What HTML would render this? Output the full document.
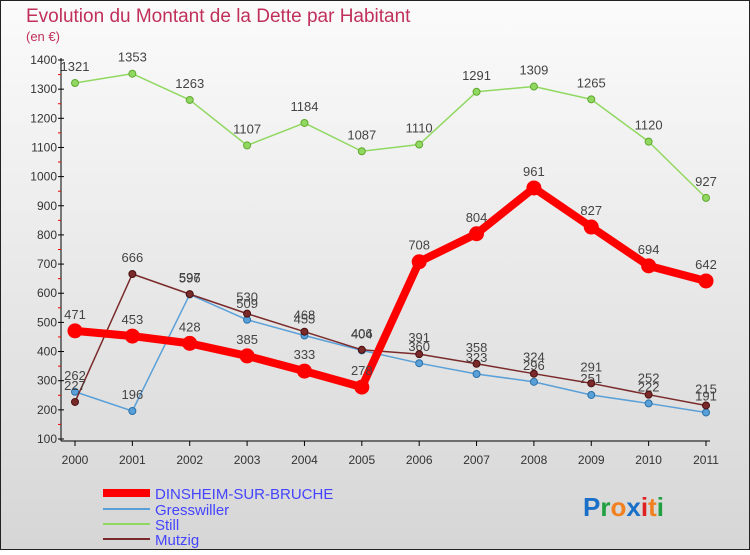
<!DOCTYPE html>
<html><head><meta charset="utf-8"><style>
body{margin:0;width:750px;height:550px;overflow:hidden;font-family:"Liberation Sans",sans-serif}
</style></head><body>
<svg width="750" height="550" xmlns="http://www.w3.org/2000/svg" id="chart">
<defs><linearGradient id="bg" x1="0" y1="0" x2="0" y2="1"><stop offset="0" stop-color="#fbfbfb"/><stop offset="1" stop-color="#d6d6d6"/></linearGradient></defs>
<rect x="0.5" y="0.5" width="749" height="549" fill="url(#bg)" stroke="#222"/>
<text x="26" y="22" font-size="19" fill="#c0305a" font-weight="300">Evolution du Montant de la Dette par Habitant</text>
<text x="26" y="41" font-size="13" fill="#c0305a">(en €)</text>
<g id="axes"></g><g id="series"></g>
<g font-size="15">
<line x1="103" y1="493" x2="150" y2="493" stroke="#ff0000" stroke-width="8"/><text x="155" y="499" fill="#4444ff">DINSHEIM-SUR-BRUCHE</text>
<line x1="103" y1="509" x2="150" y2="509" stroke="#5aa0d8" stroke-width="2"/><text x="155" y="515" fill="#4444ff">Gresswiller</text>
<line x1="103" y1="524" x2="150" y2="524" stroke="#90d860" stroke-width="2"/><text x="155" y="530" fill="#4444ff">Still</text>
<line x1="103" y1="539" x2="150" y2="539" stroke="#7a2a2a" stroke-width="2"/><text x="155" y="545" fill="#4444ff">Mutzig</text>
</g>
<text x="583" y="516" font-size="26" font-weight="bold" fill="#1a70c8">P<tspan fill="#20a040">r</tspan><tspan fill="#f08020">o</tspan><tspan fill="#1a70c8">x</tspan><tspan fill="#e02020">i</tspan><tspan fill="#f08020">t</tspan><tspan fill="#20a040">i</tspan></text>
</svg>
<script>
const years=[2000,2001,2002,2003,2004,2005,2006,2007,2008,2009,2010,2011];
const dinsheim=[471,453,428,385,333,278,708,804,961,827,694,642];
const gresswiller=[262,196,596,509,455,404,360,323,296,251,222,191];
const still=[1321,1353,1263,1107,1184,1087,1110,1291,1309,1265,1120,927];
const mutzig=[227,666,597,530,468,406,391,358,324,291,252,215];
const yTicks=[100,200,300,400,500,600,700,800,900,1000,1100,1200,1300,1400];
const NS='http://www.w3.org/2000/svg';
const xs=i=>75+i*(706-75)/11;
const ys=v=>439-(v-100)*(439-60)/1300;
function mk(t,a,p){const e=document.createElementNS(NS,t);for(const k in a)e.setAttribute(k,a[k]);p.appendChild(e);return e;}
const ax=document.getElementById('axes'),sg=document.getElementById('series');
let l=mk('line',{x1:61,y1:58,x2:61,y2:441,stroke:'#000'},ax);


l=mk('line',{x1:61,y1:441,x2:710,y2:441,stroke:'#000'},ax);


yTicks.forEach((v,i)=>{const y=ys(v);mk('line',{x1:58,y1:y,x2:64,y2:y,stroke:'#000'},ax);
if(i<yTicks.length-1)mk('line',{x1:58,y1:ys(v+50),x2:61,y2:ys(v+50),stroke:'#e00'},ax);
const t=mk('text',{x:57,y:y+4,'text-anchor':'end','font-size':12,fill:'#333'},ax);t.textContent=v;

});
years.forEach((yr,i)=>{const x=xs(i);mk('line',{x1:x,y1:441,x2:x,y2:446,stroke:'#000'},ax);
const t=mk('text',{x:x,y:464,'text-anchor':'middle','font-size':12,fill:'#333'},ax);t.textContent=yr;

});
function series(name,d,col,w,r,stroke){const g=mk('g',{},sg);


mk('polyline',{points:d.map((v,i)=>xs(i)+','+ys(v)).join(' '),fill:'none',stroke:col,'stroke-width':w,'stroke-linejoin':'round'},g);
d.forEach((v,i)=>{const c=mk('circle',{cx:xs(i),cy:ys(v),r:r,fill:col,stroke:stroke,'stroke-width':1},g);


const t=mk('text',{x:xs(i),y:ys(v)-12,'text-anchor':'middle','font-size':13,fill:'#444'},g);t.textContent=v;

});}
series('still',still,'#90d860',1.5,3.5,'#60a830');
series('gresswiller',gresswiller,'#5aa0d8',1.5,3.5,'#2a70a8');
series('mutzig',mutzig,'#7a2a2a',1.5,3.5,'#4a1010');
series('dinsheim',dinsheim,'#ff0000',8,7,'#ff0000');
</script>
</body></html>
